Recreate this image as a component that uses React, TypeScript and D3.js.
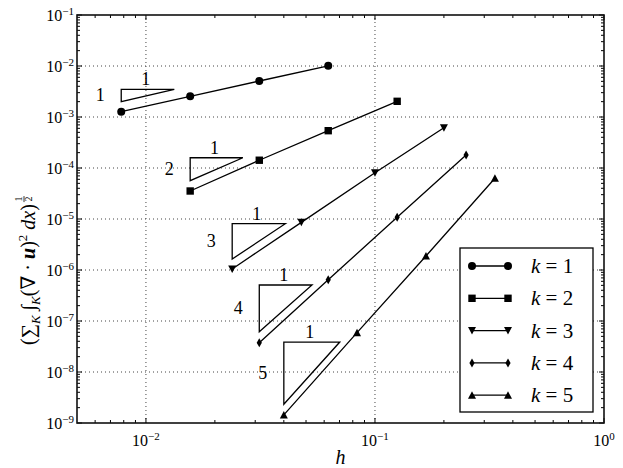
import { useRef, useEffect } from "react";
import * as d3 from "d3";

// mesh size h and error for each polynomial degree k
const hK1 = [0.0078, 0.0156, 0.03125, 0.0625];
const errK1 = [1.27e-3, 2.55e-3, 5.08e-3, 1.01e-2];
const hK2 = [0.0156, 0.03125, 0.0625, 0.125];
const errK2 = [3.54e-5, 1.42e-4, 5.39e-4, 2.03e-3];
const hK3 = [0.0238, 0.0477, 0.1, 0.2];
const errK3 = [1.05e-6, 8.6e-6, 8.09e-5, 6.17e-4];
const hK4 = [0.03125, 0.0625, 0.125, 0.25];
const errK4 = [3.76e-8, 6.45e-7, 1.08e-5, 1.8e-4];
const hK5 = [0.04, 0.0835, 0.167, 0.334];
const errK5 = [1.44e-9, 5.9e-8, 1.88e-6, 6.28e-5];

// slope triangles (left h, right h, top err, bottom err, rate label)
const triHLeft = [0.0078, 0.0156, 0.0238, 0.03125, 0.04];
const triHRight = [0.0133, 0.0265, 0.0406, 0.0531, 0.0702];
const triTop = [3.49e-3, 1.59e-4, 8.09e-6, 5.08e-7, 3.87e-8];
const triBottom = [2.0e-3, 5.64e-5, 1.64e-6, 6.17e-8, 2.33e-9];
const triRates = ["1", "2", "3", "4", "5"];

const xTickExps = [-2, -1, 0];
const yTickExps = [-9, -8, -7, -6, -5, -4, -3, -2, -1];

const serif = '"Liberation Serif", "DejaVu Serif", "Times New Roman", serif';

const markerPath = (shape: string) => {
  switch (shape) {
    case "circle":
      return d3.symbol(d3.symbolCircle, Math.PI * 4 * 4)();
    case "square":
      return "M-3.7,-3.7H3.7V3.7H-3.7Z";
    case "tri_down":
      return "M0,4L-4,-3.5H4Z";
    case "tri_up":
      return "M0,-4L4,3.5H-4Z";
    default:
      return "M0,-4.5L2.6,0L0,4.5L-2.6,0Z";
  }
};

const App = () => {
  const svgRef = useRef<SVGSVGElement>(null);

  useEffect(() => {
    const svg = d3.select(svgRef.current);
    svg.selectAll("*").remove();

    const width = 623;
    const height = 468;
    const margin = { top: 15, right: 19, bottom: 45, left: 77 };

    const x = d3
      .scaleLog()
      .domain([0.005, 1])
      .range([margin.left, width - margin.right]);
    const y = d3
      .scaleLog()
      .domain([1e-9, 1e-1])
      .range([height - margin.bottom, margin.top]);

    const series = [
      { k: 1, h: hK1, err: errK1, marker: "circle" },
      { k: 2, h: hK2, err: errK2, marker: "square" },
      { k: 3, h: hK3, err: errK3, marker: "tri_down" },
      { k: 4, h: hK4, err: errK4, marker: "diamond" },
      { k: 5, h: hK5, err: errK5, marker: "tri_up" },
    ];

    const x0 = margin.left;
    const x1 = width - margin.right;
    const y0 = height - margin.bottom;
    const y1 = margin.top;

    // grid
    const grid = svg
      .append("g")
      .attr("stroke", "#444")
      .attr("stroke-width", 1)
      .attr("stroke-dasharray", "1,3");
    xTickExps
      .filter((e) => x(10 ** e) > x0 + 1 && x(10 ** e) < x1 - 1)
      .forEach((e) => {
        grid.append("line").attr("x1", x(10 ** e)).attr("x2", x(10 ** e)).attr("y1", y0).attr("y2", y1);
      });
    yTickExps
      .filter((e) => y(10 ** e) < y0 - 1 && y(10 ** e) > y1 + 1)
      .forEach((e) => {
        grid.append("line").attr("y1", y(10 ** e)).attr("y2", y(10 ** e)).attr("x1", x0).attr("x2", x1);
      });

    // ticks on all four sides, pointing in
    const ticks = svg.append("g").attr("stroke", "#000").attr("stroke-width", 1);
    const xMinor: number[] = [];
    for (let e = -3; e <= 0; e++)
      for (let m = 2; m <= 9; m++) {
        const v = m * 10 ** e;
        if (v > 0.005 && v < 1) xMinor.push(v);
      }
    const yMinor: number[] = [];
    for (let e = -9; e <= -2; e++)
      for (let m = 2; m <= 9; m++) yMinor.push(m * 10 ** e);

    const xt = [
      ...xTickExps.map((e) => ({ v: 10 ** e, len: 5 })),
      ...xMinor.map((v) => ({ v, len: 3 })),
    ];
    xt.forEach((t) => {
      ticks.append("line").attr("x1", x(t.v)).attr("x2", x(t.v)).attr("y1", y0).attr("y2", y0 - t.len);
      ticks.append("line").attr("x1", x(t.v)).attr("x2", x(t.v)).attr("y1", y1).attr("y2", y1 + t.len);
    });
    const yt = [
      ...yTickExps.map((e) => ({ v: 10 ** e, len: 5 })),
      ...yMinor.map((v) => ({ v, len: 3 })),
    ];
    yt.forEach((t) => {
      ticks.append("line").attr("y1", y(t.v)).attr("y2", y(t.v)).attr("x1", x0).attr("x2", x0 + t.len);
      ticks.append("line").attr("y1", y(t.v)).attr("y2", y(t.v)).attr("x1", x1).attr("x2", x1 - t.len);
    });

    const txt = (sel: any) => sel.append("text").style("font-family", serif);

    // tick labels
    xTickExps.forEach((e) => {
      const t = txt(svg)
        .attr("x", x(10 ** e))
        .attr("y", 446)
        .attr("text-anchor", "middle")
        .style("font-size", "16px");
      t.append("tspan").text("10");
      t.append("tspan").attr("dy", -6).style("font-size", "11px").text(e === 0 ? "0" : `\u2212${-e}`);
    });
    yTickExps.forEach((e) => {
      const t = txt(svg)
        .attr("x", 74)
        .attr("y", y(10 ** e) + 6)
        .attr("text-anchor", "end")
        .style("font-size", "16px");
      t.append("tspan").text("10");
      t.append("tspan").attr("dy", -6).style("font-size", "11px").text(`\u2212${-e}`);
    });

    // axis labels
    txt(svg)
      .attr("x", (x0 + x1) / 2)
      .attr("y", 464)
      .attr("text-anchor", "middle")
      .style("font-style", "italic")
      .style("font-size", "20px")
      .text("h");

    const yl = svg.append("g").attr("transform", "translate(35,345) rotate(-90)");
    const ylt = txt(yl).style("font-size", "20px");
    ylt.append("tspan").text("(\u2211");
    ylt.append("tspan").attr("dy", 5).style("font-size", "13px").style("font-style", "italic").text("K");
    ylt.append("tspan").attr("dy", -5).text(" \u222B");
    ylt.append("tspan").attr("dy", 5).style("font-size", "13px").style("font-style", "italic").text("K");
    ylt.append("tspan").attr("dy", -5).text("(\u2207 \u00B7 ");
    ylt.append("tspan").style("font-weight", "bold").style("font-style", "italic").text("u");
    ylt.append("tspan").text(")");
    ylt.append("tspan").attr("dy", -8).style("font-size", "13px").text("2");
    ylt.append("tspan").attr("dy", 8).style("font-style", "italic").text(" dx");
    ylt.append("tspan").text(")");
    const len = (ylt.node() as SVGTextElement).getComputedTextLength();
    const fx = len + 5;
    txt(yl).attr("x", fx).attr("y", -13).attr("text-anchor", "middle").style("font-size", "10px").text("1");
    yl.append("line").attr("x1", fx - 3).attr("x2", fx + 3).attr("y1", -11).attr("y2", -11).attr("stroke", "#000").attr("stroke-width", 0.8);
    txt(yl).attr("x", fx).attr("y", -3).attr("text-anchor", "middle").style("font-size", "10px").text("2");

    // slope triangles
    triRates.forEach((r, i) => {
      const xl = x(triHLeft[i]);
      const xr = x(triHRight[i]);
      const yT = y(triTop[i]);
      const yB = y(triBottom[i]);
      svg
        .append("path")
        .attr("d", `M${xl},${yB}L${xl},${yT}L${xr},${yT}Z`)
        .attr("fill", "none")
        .attr("stroke", "#000")
        .attr("stroke-width", 1.3);
      txt(svg)
        .attr("x", xl - 21)
        .attr("y", (yT + yB) / 2 + 6)
        .attr("text-anchor", "middle")
        .style("font-size", "18px")
        .text(r);
      txt(svg)
        .attr("x", (xl + xr) / 2 - 2)
        .attr("y", yT - 4)
        .attr("text-anchor", "middle")
        .style("font-size", "18px")
        .text("1");
    });

    // data lines and markers
    const line = d3
      .line<number[]>()
      .x((d) => d[0])
      .y((d) => d[1]);
    series.forEach((s) => {
      const pts = s.h.map((h, i) => [x(h), y(s.err[i])]);
      svg
        .append("path")
        .attr("d", line(pts))
        .attr("fill", "none")
        .attr("stroke", "#000")
        .attr("stroke-width", 1.3);
      svg
        .append("g")
        .selectAll("path")
        .data(pts)
        .join("path")
        .attr("transform", (d) => `translate(${d[0]},${d[1]})`)
        .attr("d", markerPath(s.marker))
        .attr("fill", "#000");
    });

    // legend
    const legend = svg.append("g");
    legend
      .append("rect")
      .attr("x", 460)
      .attr("y", 248)
      .attr("width", 133)
      .attr("height", 164)
      .attr("fill", "#fff")
      .attr("stroke", "#000")
      .attr("stroke-width", 1.3);
    series.forEach((s, i) => {
      const ry = 266 + i * 32.3;
      const row = legend.append("g").attr("transform", `translate(0,${ry})`);
      row.append("line").attr("x1", 472).attr("x2", 508).attr("stroke", "#000").attr("stroke-width", 1.3);
      [472, 508].forEach((mx) => {
        row.append("path").attr("transform", `translate(${mx},0)`).attr("d", markerPath(s.marker)).attr("fill", "#000");
      });
      const t = txt(row).attr("x", 531).attr("y", 7).style("font-size", "21px");
      t.append("tspan").style("font-style", "italic").text("k");
      t.append("tspan").text(` = ${s.k}`);
    });

    // frame
    svg
      .append("rect")
      .attr("x", x0)
      .attr("y", y1)
      .attr("width", x1 - x0)
      .attr("height", y0 - y1)
      .attr("fill", "none")
      .attr("stroke", "#111")
      .attr("stroke-width", 1.6);
  }, []);

  return (
    <svg
      ref={svgRef}
      width="623"
      height="468"
      style={{ position: "absolute", left: 0, top: 0, background: "#fff" }}
    />
  );
};

export default App;
